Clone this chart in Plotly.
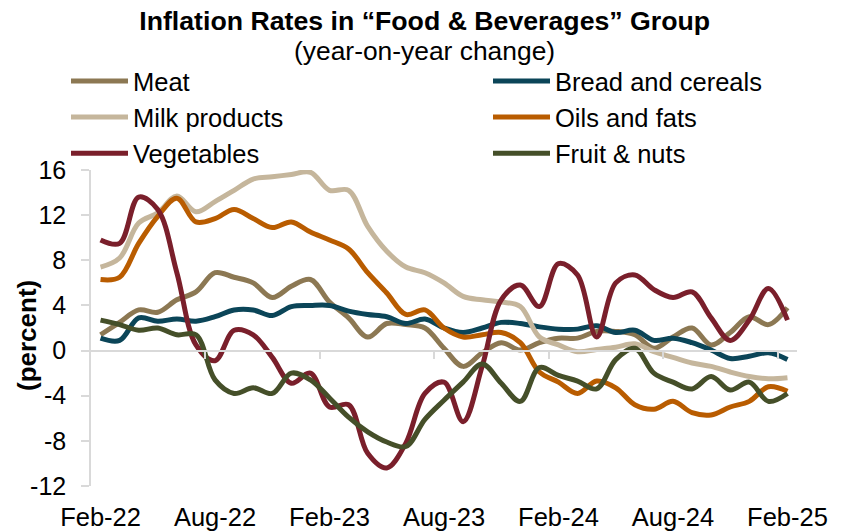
import plotly.graph_objects as go

# Year-on-year inflation by food group, monthly Feb-22 .. Feb-25
meat = [1.4, 2.5, 3.6, 3.4, 4.5, 5.2, 6.9, 6.5, 6.0, 4.7, 5.7, 6.3, 4.3, 2.9, 1.2, 2.4, 2.3, 2.0,
        0.2, -1.4, -0.2, 0.7, 0.05, 0.7, 1.1, 1.1, 1.7, 1.7, 1.4, 0.2, 1.2, 2.0, 0.5, 1.6, 3.0, 2.3, 3.8]
bread = [1.1, 0.9, 2.9, 2.6, 2.8, 2.6, 3.0, 3.6, 3.6, 3.1, 3.9, 4.0, 4.0, 3.5, 3.2, 3.0, 2.4, 2.8,
         2.0, 1.6, 2.0, 2.5, 2.4, 2.1, 1.9, 1.9, 2.2, 1.6, 1.8, 0.9, 1.1, 0.7, 0.05, -0.7, -0.5, -0.2, -0.8]
milk = [7.4, 8.2, 11.3, 12.2, 13.7, 12.3, 13.2, 14.2, 15.2, 15.4, 15.6, 15.8, 14.2, 14.2, 11.0, 8.8, 7.4, 6.9,
        6.0, 4.8, 4.5, 4.3, 3.9, 1.2, 0.5, -0.1, 0.1, 0.3, 0.6, -0.1, -0.6, -1.1, -1.4, -1.9, -2.3, -2.5, -2.4]
oils = [6.3, 6.5, 9.5, 11.9, 13.5, 11.4, 11.7, 12.5, 11.7, 10.9, 11.4, 10.5, 9.8, 9.0, 6.9, 5.1, 3.2, 3.6,
        2.0, 1.2, 1.4, 1.6, 0.7, -1.9, -2.8, -3.8, -2.7, -3.3, -4.8, -5.2, -4.5, -5.5, -5.7, -5.0, -4.5, -3.2, -3.6]
vegetables = [9.8, 9.5, 13.6, 12.5, 6.9, 0.5, -0.9, 1.8, 1.4, -0.6, -2.9, -2.0, -5.0, -4.8, -9.1, -10.4, -8.2, -3.8,
              -2.8, -6.3, -1.4, 4.5, 5.8, 3.9, 7.7, 6.7, 1.2, 6.0, 6.7, 5.4, 4.7, 5.2, 2.9, 0.9, 2.7, 5.5, 2.7]
fruit = [2.7, 2.3, 1.8, 2.0, 1.4, 1.4, -2.6, -3.8, -3.3, -3.8, -2.0, -2.6, -4.2, -5.9, -7.2, -8.1, -8.5, -6.1,
         -4.4, -2.8, -1.2, -2.9, -4.5, -1.5, -2.2, -2.7, -3.4, -0.8, 0.2, -2.0, -2.8, -3.4, -2.3, -3.5, -2.8, -4.5, -3.8]

month_idx = list(range(len(meat)))
tick_labels = ["Feb-22", "Aug-22", "Feb-23", "Aug-23", "Feb-24", "Aug-24", "Feb-25"]
tick_step = 6
tick_pos = [i * tick_step for i in range(len(tick_labels))]
# small marks on the zero line sit between months, one every half-year
divider_pos = [p - 0.5 for p in tick_pos[1:]]

y_ticks = [-12, -8, -4, 0, 4, 8, 12, 16]
y_tick_text = ["-12", "-8", "-4", "0", "4", "8", "12", "16"]

series = [
    ("Meat", meat, "#8C7853", "legend"),
    ("Bread and cereals", bread, "#0B4558", "legend2"),
    ("Milk products", milk, "#C5B69C", "legend"),
    ("Oils and fats", oils, "#B95C00", "legend2"),
    ("Vegetables", vegetables, "#7A1F2B", "legend"),
    ("Fruit & nuts", fruit, "#454F29", "legend2"),
]

FONT = "Liberation Sans, Arial, sans-serif"
GRID = "#D9D9D9"
LEG_FONT = 25.5
ITEM_W = 57

# plot-area geometry in pixels, used to place the free-floating texts
PLOT_L, PLOT_W, PLOT_B, PLOT_H = 91, 706, 486, 316


def px_x(px):
    return (px - PLOT_L) / PLOT_W


def px_y(py):
    return (PLOT_B - py) / PLOT_H


fig = go.Figure()
for name, vals, color, lg in series:
    fig.add_trace(go.Scatter(
        x=month_idx, y=vals, name=name, mode="lines",
        line=dict(color=color, width=5, shape="spline", smoothing=1.0),
        legend=lg,
    ))

# empty trace so the zero-line axis gets drawn
fig.add_trace(go.Scatter(x=[], y=[], xaxis="x2", yaxis="y", showlegend=False, hoverinfo="skip"))

fig.update_layout(
    width=841, height=532,
    margin=dict(l=PLOT_L, r=841 - PLOT_L - PLOT_W, t=PLOT_B - PLOT_H, b=532 - PLOT_B, autoexpand=False),
    paper_bgcolor="white", plot_bgcolor="white",
    font=dict(family=FONT, size=25, color="black"),
    title=dict(
        text="<b>Inflation Rates in “Food & Beverages” Group</b>",
        font=dict(size=26.7, color="black"),
        x=0.505, xanchor="center", xref="container",
        y=0.978, yanchor="top", yref="container",
    ),
    annotations=[
        dict(
            text="(year-on-year change)", showarrow=False,
            xref="paper", yref="paper", x=px_x(424), y=px_y(51),
            xanchor="center", yanchor="middle",
            font=dict(size=26.4, color="black"),
        ),
        dict(
            text="<b>(percent)</b>", showarrow=False, textangle=-90,
            xref="paper", yref="paper", x=px_x(27), y=px_y(336),
            xanchor="center", yanchor="middle",
            font=dict(size=26, color="black"),
        ),
    ],
    xaxis=dict(
        range=[-0.5, len(meat) - 0.5], tickvals=tick_pos, ticktext=tick_labels,
        showline=False, showgrid=False, zeroline=False, ticks="",
        ticklabelstandoff=13, automargin=False,
        tickfont=dict(size=25.5, color="black"),
    ),
    xaxis2=dict(
        overlaying="x", anchor="free", position=12 / 28,
        range=[-0.5, len(meat) - 0.5], tickvals=divider_pos,
        showticklabels=False, showgrid=False, zeroline=False,
        showline=True, linecolor=GRID, linewidth=1.5,
        ticks="outside", ticklen=8, tickcolor=GRID, tickwidth=1.5,
    ),
    yaxis=dict(
        range=[-12, 16], tickvals=y_ticks, ticktext=y_tick_text,
        showgrid=False, zeroline=False,
        showline=True, linecolor=GRID, linewidth=1.5,
        ticks="outside", ticklen=8, tickcolor=GRID, tickwidth=1.5,
        ticklabelstandoff=10, automargin=False,
        tickfont=dict(size=25, color="black"),
    ),
    legend=dict(
        x=px_x(73 - 7), xanchor="left", y=1.355, yanchor="top",
        bgcolor="rgba(0,0,0,0)", font=dict(size=LEG_FONT, color="black"),
        tracegroupgap=0, itemwidth=ITEM_W,
    ),
    legend2=dict(
        x=px_x(495 - 7), xanchor="left", y=1.355, yanchor="top",
        bgcolor="rgba(0,0,0,0)", font=dict(size=LEG_FONT, color="black"),
        tracegroupgap=0, itemwidth=ITEM_W,
    ),
    showlegend=True,
)

fig.write_html("out.html")
